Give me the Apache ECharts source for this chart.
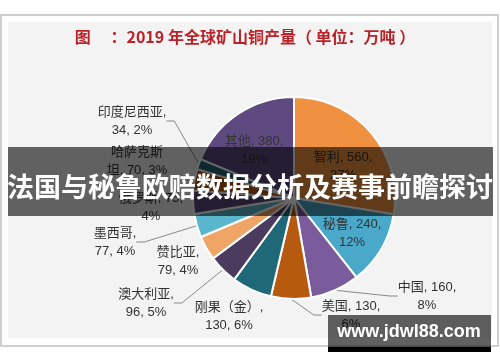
<!DOCTYPE html>
<html><head><meta charset="utf-8">
<script src="https://cdn.jsdelivr.net/npm/echarts@6/dist/echarts.min.js"></script>
<style>html,body{margin:0;padding:0;background:#fff}#c{width:500px;height:362px}</style>
</head><body><div id="c"></div>
<script>
// ---- data ----
const categories = ['智利','秘鲁','中国','美国','刚果（金）','澳大利亚','赞比亚','墨西哥','俄罗斯','哈萨克斯坦','印度尼西亚','其他'];
const values = [560,240,160,130,130,96,79,77,75,70,34,380];
const percents = [27,12,8,6,6,5,4,4,4,3,2,19];
const titleText = '图　 ：2019 年全球矿山铜产量（ 单位：万吨 ）';
const bannerText = '法国与秘鲁欧赔数据分析及赛事前瞻探讨';
const watermarkText = 'www.jdwl88.com';

// ---- styles / layout ----
const colors = ['#ef9140','#4aa8c8','#7a5c9c','#b65a10','#1f6878','#4b3b5e','#f0a566','#5ab6cc','#5a4878','#b65a10','#1f6878','#5e4a80'];
const labelFormat = ['A','A','A','A','B','B','B','B','A',4,'B','A'];
const labelPos = [[343,166],[352,233],[427,296],[351,315],[229,316],[146,303],[178,261],[115,242],[151,207],[137,161],[132,121],[254,150]];
const labelLineShow = [false,false,true,true,false,true,false,true,false,false,true,false];

function fmt(i){
  const n = categories[i], v = values[i], p = percents[i] + '%', f = labelFormat[i];
  if (f === 'A') return n + ', ' + v + ',\n' + p;
  if (f === 'B') return n + ',\n' + v + ', ' + p;
  return n.slice(0, f) + '\n' + n.slice(f) + ', ' + v + ', ' + p;
}

const chart = echarts.init(document.getElementById('c'), null, {renderer:'canvas'});
const FONT = '"Liberation Sans","Noto Sans CJK SC",sans-serif';
chart.setOption({
  backgroundColor: '#ffffff',
  animation: false,
  graphic: [
    {type:'rect', z:-10, shape:{x:1, y:15, width:497, height:331}, style:{fill:'#ffffff', stroke:'#cfcfcf', lineWidth:2}},
    {type:'rect', z:-9, shape:{x:8, y:22, width:484, height:316}, style:{fill:'#f3f3f3'}},
    {type:'text', z:-8, x:245, y:37, style:{text:titleText, fill:'#bb2228', font:'bold 16px "Noto Sans CJK SC",sans-serif', textAlign:'center', textVerticalAlign:'middle'}},
    {type:'rect', z:100, shape:{x:8, y:147, width:485, height:69}, style:{fill:'rgba(0,0,0,0.6)'}},
    {type:'text', z:101, x:250, y:187, style:{text:bannerText, fill:'#ffffff', font:'bold 27px "Noto Sans CJK SC",sans-serif', textAlign:'center', textVerticalAlign:'middle'}},
    {type:'rect', z:100, shape:{x:328, y:315, width:163, height:32}, style:{fill:'rgba(0,0,0,0.62)'}},
    {type:'rect', z:100, shape:{x:328, y:347, width:163, height:5}, style:{fill:'#000000'}},
    {type:'text', z:101, x:409, y:332, style:{text:watermarkText, fill:'#ffffff', font:'bold 18px "Liberation Sans",sans-serif', textAlign:'center', textVerticalAlign:'middle'}}
  ],
  series: [{
    type: 'pie',
    center: [294, 198],
    radius: [0, 101],
    startAngle: 90,
    clockwise: true,
    avoidLabelOverlap: false,
    itemStyle: {borderColor:'#ffffff', borderWidth:2},
    label: {show:true, position:'outside', color:'#333', fontSize:13, fontFamily:FONT, lineHeight:18, align:'center',
      formatter: p => fmt(p.dataIndex)},
    labelLine: {show:true, length:8, length2:8, lineStyle:{color:'#888', width:1}},
    labelLayout: params => {
      const p = labelPos[params.dataIndex];
      return {x:p[0], y:p[1], align:'center', verticalAlign:'middle'};
    },
    emphasis: {disabled:true},
    data: categories.map((c, i) => ({
      name: c, value: values[i],
      itemStyle: {color: colors[i]},
      labelLine: {show: labelLineShow[i]}
    }))
  }]
});
</script></body></html>
